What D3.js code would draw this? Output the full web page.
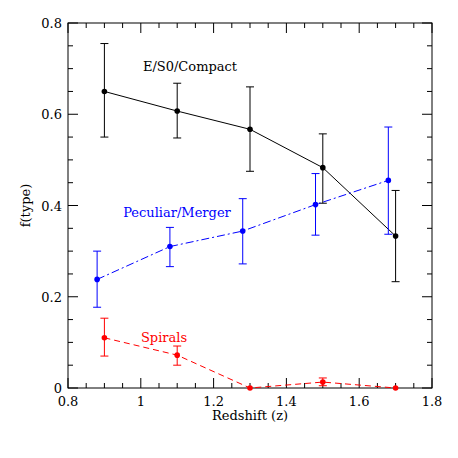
<!DOCTYPE html><html><head><script src="https://cdn.jsdelivr.net/npm/d3@7"></script>
<style>body{margin:0;background:#fff}text{font-family:"DejaVu Serif";font-size:13px}</style></head><body><svg id="c" width="458" height="458"></svg><script>
const seriesNames=["E/S0/Compact","Peculiar/Merger","Spirals"];
const colors=["#000","#0000ff","#ff0000"];
const xE=[0.9,1.1,1.3,1.5,1.7], yE=[0.65,0.607,0.567,0.483,0.333], loE=[0.55,0.548,0.475,0.405,0.233], hiE=[0.755,0.668,0.66,0.557,0.433];
const xP=[0.88,1.08,1.28,1.48,1.68], yP=[0.238,0.31,0.344,0.402,0.455], loP=[0.177,0.266,0.272,0.335,0.337], hiP=[0.3,0.352,0.415,0.47,0.572];
const xS=[0.9,1.1,1.3,1.5,1.7], yS=[0.11,0.072,0,0.013,0], loS=[0.07,0.05,0,0.005,0], hiS=[0.153,0.092,0,0.022,0];
const xTicks=[0.8,1,1.2,1.4,1.6,1.8], yTicks=[0,0.2,0.4,0.6,0.8];
const svg=d3.select("#c");
const L=68,R=432,T=23,B=388;
const x=d3.scaleLinear().domain([0.8,1.8]).range([L,R]);
const y=d3.scaleLinear().domain([0,0.8]).range([B,T]);
const g=svg.append("g").attr("stroke","#000").attr("stroke-width",1);
g.append("rect").attr("x",L).attr("y",T).attr("width",R-L).attr("height",B-T).attr("fill","none");
d3.range(0.8,1.8001,0.05).forEach((v,i)=>{const len=i%4===0?10:5;g.append("line").attr("x1",x(v)).attr("x2",x(v)).attr("y1",B).attr("y2",B-len);g.append("line").attr("x1",x(v)).attr("x2",x(v)).attr("y1",T).attr("y2",T+len);});
d3.range(0,0.8001,0.05).forEach((v,i)=>{const len=i%4===0?10:5;g.append("line").attr("y1",y(v)).attr("y2",y(v)).attr("x1",L).attr("x2",L+len);g.append("line").attr("y1",y(v)).attr("y2",y(v)).attr("x1",R).attr("x2",R-len);});
xTicks.forEach(v=>svg.append("text").attr("x",x(v)).attr("y",B+18).attr("text-anchor","middle").text(d3.format("~g")(v)));
yTicks.forEach(v=>svg.append("text").attr("x",L-6).attr("y",y(v)+5).attr("text-anchor","end").text(d3.format("~g")(v)));
svg.append("text").attr("x",(L+R)/2).attr("y",B+32).attr("text-anchor","middle").text("Redshift (z)");
svg.append("text").attr("transform",`translate(${L-38},${(T+B)/2}) rotate(-90)`).attr("text-anchor","middle").text("f(type)");
const data=[[xE,yE,loE,hiE,null],[xP,yP,loP,hiP,"8,3,2,3"],[xS,yS,loS,hiS,"6,4"]];
const lblPos=[[190,71],[177,217],[164,342]];
data.forEach(([xs,ys,lo,hi,dash],k)=>{
 const c=colors[k];
 svg.append("path").attr("d",d3.line().x((d,i)=>x(xs[i])).y(d=>y(d))(ys)).attr("fill","none").attr("stroke",c).attr("stroke-dasharray",dash);
 xs.forEach((xv,i)=>{if(hi[i]>lo[i]){svg.append("line").attr("x1",x(xv)).attr("x2",x(xv)).attr("y1",y(lo[i])).attr("y2",y(hi[i])).attr("stroke",c);
  [lo[i],hi[i]].forEach(v=>svg.append("line").attr("x1",x(xv)-4).attr("x2",x(xv)+4).attr("y1",y(v)).attr("y2",y(v)).attr("stroke",c));}
  svg.append("circle").attr("cx",x(xv)).attr("cy",y(ys[i])).attr("r",2.8).attr("fill",c);});
 svg.append("text").attr("x",lblPos[k][0]).attr("y",lblPos[k][1]).attr("text-anchor","middle").attr("fill",c).text(seriesNames[k]);
});
</script></body></html>
